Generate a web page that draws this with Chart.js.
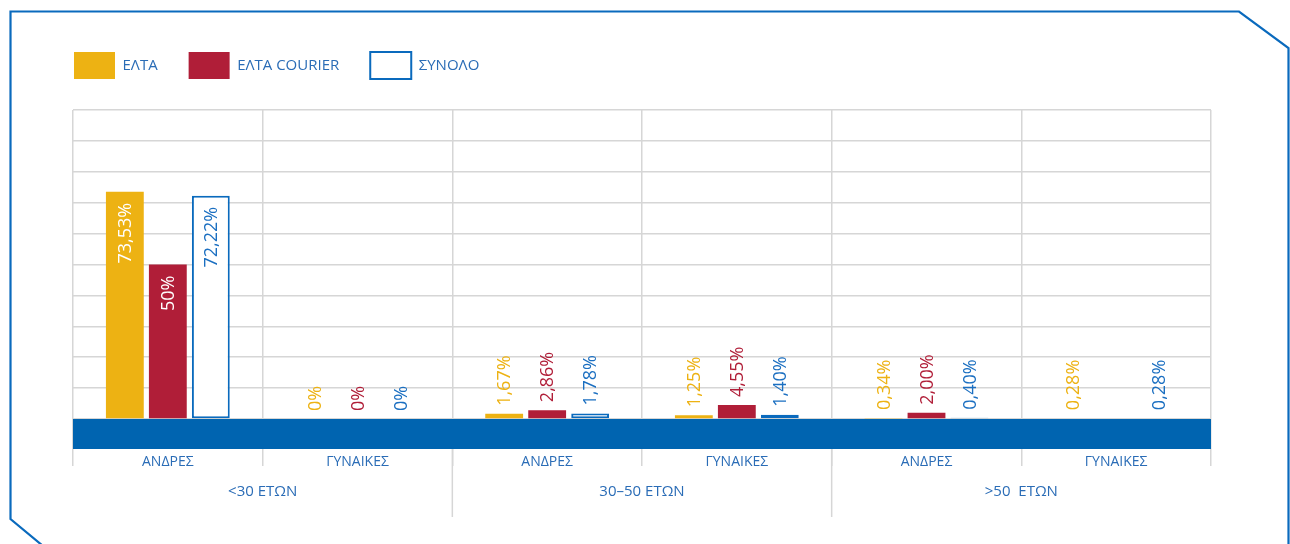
<!DOCTYPE html>
<html>
<head>
<meta charset="utf-8">
<script src="https://cdn.jsdelivr.net/npm/chart.js@4.4.1/dist/chart.umd.min.js"></script>
<style>
  html, body { margin: 0; padding: 0; background: #ffffff; }
  #wrap { position: relative; width: 1290px; height: 544px; }
</style>
</head>
<body>
<div id="wrap"><canvas id="chart" width="1290" height="544"></canvas></div>
<script>
// Categories (gender) and the age groups they belong to
const categories = ['ΑΝΔΡΕΣ', 'ΓΥΝΑΙΚΕΣ', 'ΑΝΔΡΕΣ', 'ΓΥΝΑΙΚΕΣ', 'ΑΝΔΡΕΣ', 'ΓΥΝΑΙΚΕΣ'];
const ageGroups = ['<30 ΕΤΩΝ', '30–50 ΕΤΩΝ', '>50  ΕΤΩΝ'];
const seriesNames = ['ΕΛΤΑ', 'ΕΛΤΑ COURIER', 'ΣΥΝΟΛΟ'];

// Percentages as written in the value labels (null = no value)
const eltaValues    = ['73.53', '0', '1.67', '1.25', '0.34', '0.28'];
const courierValues = ['50',    '0', '2.86', '4.55', '2.00', null];
const totalValues   = ['72.22', '0', '1.78', '1.40', '0.40', '0.28'];

// Value axis: 0–100 % with a gridline every 10 %
const yMin = 0, yMax = 100, yStep = 10;

const BLUE = '#0a6abd';
const BAND = '#0064b0';
const YELLOW = '#edb213';
const RED = '#b01e38';
const TEXT = '#2a6cb6';
const GRID = '#d6d6d6';
const FONT = '"Open Sans", "Noto Sans", sans-serif';

const rawSeries = [eltaValues, courierValues, totalValues];
const toNum = arr => arr.map(v => v === null ? null : Number(v));
const toLabel = v => v.replace('.', ',') + '%';

// Outer frame with two cut corners
const framePlugin = {
  id: 'frame',
  beforeDraw(chart) {
    const ctx = chart.ctx;
    ctx.save();
    ctx.strokeStyle = BLUE;
    ctx.lineWidth = 2.2;
    ctx.beginPath();
    ctx.moveTo(43, 546);
    ctx.lineTo(10.5, 519);
    ctx.lineTo(10.5, 11.5);
    ctx.lineTo(1239, 11.5);
    ctx.lineTo(1288.5, 48);
    ctx.lineTo(1288.5, 546);
    ctx.stroke();
    ctx.restore();
  }
};

// Rotated value labels: inside tall bars, above short ones
const valueLabelPlugin = {
  id: 'valueLabels',
  afterDatasetsDraw(chart) {
    const ctx = chart.ctx;
    const insideColors = ['#ffffff', '#ffffff', '#1b6fc1'];
    const outsideColors = [YELLOW, RED, '#1b6fc1'];
    ctx.save();
    ctx.font = '18px ' + FONT;
    ctx.textBaseline = 'middle';
    rawSeries.forEach((raw, i) => {
      const meta = chart.getDatasetMeta(i);
      meta.data.forEach((bar, j) => {
        if (raw[j] === null) return;
        const v = Number(raw[j]);
        const text = toLabel(raw[j]);
        ctx.save();
        if (v > 10) {
          ctx.translate(bar.x, bar.y + 11);
          ctx.rotate(-Math.PI / 2);
          ctx.textAlign = 'right';
          ctx.fillStyle = insideColors[i];
        } else {
          ctx.translate(bar.x, bar.y - 8);
          ctx.rotate(-Math.PI / 2);
          ctx.textAlign = 'left';
          ctx.fillStyle = outsideColors[i];
        }
        ctx.fillText(text, 0, 1);
        ctx.restore();
      });
    });
    ctx.restore();
  }
};

// Blue base band under the bars and the age-group separators
const basePlugin = {
  id: 'baseBand',
  afterDraw(chart) {
    const {ctx, chartArea} = chart;
    const x = chart.scales.x;
    ctx.save();
    ctx.fillStyle = BAND;
    ctx.fillRect(chartArea.left, chartArea.bottom, chartArea.right - chartArea.left, 30);
    ctx.strokeStyle = GRID;
    ctx.lineWidth = 1.5;
    [2, 4].forEach(k => {
      const px = (x.getPixelForValue(k - 1) + x.getPixelForValue(k)) / 2;
      ctx.beginPath();
      ctx.moveTo(px, chartArea.bottom + 30);
      ctx.lineTo(px, 517);
      ctx.stroke();
    });
    ctx.restore();
  }
};

Chart.defaults.font.family = FONT;

new Chart(document.getElementById('chart'), {
  type: 'bar',
  data: {
    labels: categories,
    datasets: [
      {
        label: seriesNames[0],
        data: toNum(eltaValues),
        backgroundColor: YELLOW,
        borderWidth: 0
      },
      {
        label: seriesNames[1],
        data: toNum(courierValues),
        backgroundColor: RED,
        borderWidth: 0
      },
      {
        label: seriesNames[2],
        data: toNum(totalValues),
        backgroundColor: '#ffffff',
        borderColor: BLUE,
        borderWidth: 2,
        borderSkipped: false
      }
    ]
  },
  options: {
    responsive: false,
    animation: false,
    devicePixelRatio: 1,
    categoryPercentage: 0.68,
    barPercentage: 0.88,
    layout: { padding: { left: 43, right: 79, top: 21, bottom: 25 } },
    plugins: {
      tooltip: { enabled: false },
      legend: {
        position: 'top',
        align: 'start',
        labels: {
          boxWidth: 41,
          boxHeight: 27,
          padding: 31,
          color: TEXT,
          font: { size: 15 }
        }
      },
      subtitle: {
        display: true,
        text: ' ',
        weight: 500,
        font: { size: 10, lineHeight: 1 },
        padding: { top: 11, bottom: 0 }
      }
    },
    scales: {
      x: {
        offset: true,
        grid: { offset: true, color: GRID, lineWidth: 1.5, tickLength: 47 },
        border: { display: false },
        ticks: { color: TEXT, font: { size: 14 }, padding: -12, maxRotation: 0, autoSkip: false },
        afterFit(s) { s.height = 60; }
      },
      x2: {
        type: 'category',
        labels: ageGroups,
        position: 'bottom',
        offset: true,
        grid: { display: false, drawTicks: false },
        border: { display: false },
        ticks: { color: TEXT, font: { size: 15 }, padding: 4, maxRotation: 0, autoSkip: false },
        afterFit(s) { s.height = 40; }
      },
      y: {
        min: yMin,
        max: yMax,
        ticks: { display: false, stepSize: yStep },
        grid: { color: GRID, lineWidth: 1.5, drawTicks: false },
        border: { display: false },
        afterFit(s) { s.width = 30; }
      }
    }
  },
  plugins: [framePlugin, valueLabelPlugin, basePlugin]
});
</script>
</body>
</html>
